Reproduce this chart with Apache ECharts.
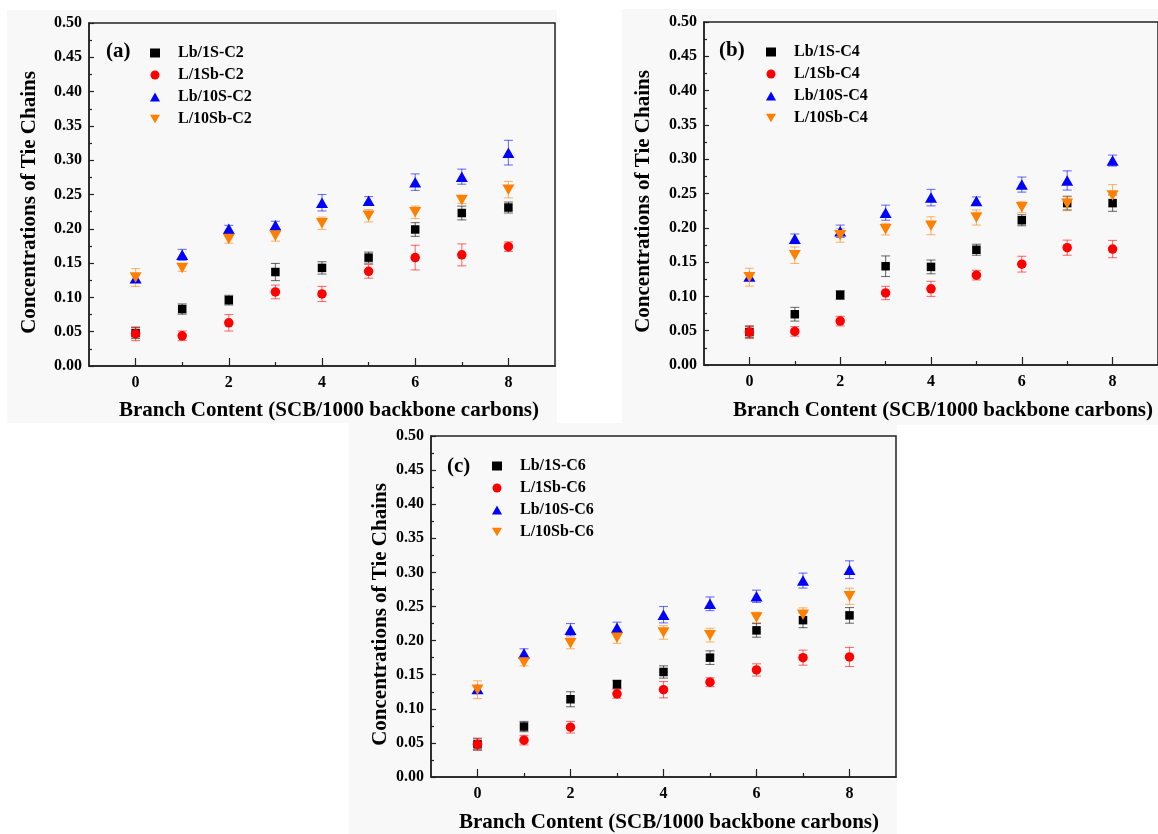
<!DOCTYPE html>
<html>
<head>
<meta charset="utf-8">
<script src="https://cdn.jsdelivr.net/npm/echarts@6/dist/echarts.min.js"></script>
<style>
html,body{margin:0;padding:0;background:#fff;}
#chart{width:1158px;height:834px;}
</style>
</head>
<body>
<div id="chart"></div>
<script>
// ---------- data ----------
const xValues = [0, 1, 2, 3, 4, 5, 6, 7, 8];
const xMajorTicks = [0, 2, 4, 6, 8];
const xMinorTicks = [1, 3, 5, 7];

const panelLabels = ['(a)', '(b)', '(c)'];
const namesA = ['Lb/1S-C2', 'L/1Sb-C2', 'Lb/10S-C2', 'L/10Sb-C2'];
const namesB = ['Lb/1S-C4', 'L/1Sb-C4', 'Lb/10S-C4', 'L/10Sb-C4'];
const namesC = ['Lb/1S-C6', 'L/1Sb-C6', 'Lb/10S-C6', 'L/10Sb-C6'];

// panel (a) C2
const a_Lb1S      = [0.048, 0.083, 0.096, 0.137, 0.143, 0.158, 0.199, 0.223, 0.231];
const a_Lb1S_err  = [0.008, 0.0075, 0.007, 0.0125, 0.009, 0.008, 0.010, 0.010, 0.008];
const a_L1Sb      = [0.047, 0.044, 0.063, 0.108, 0.105, 0.138, 0.158, 0.162, 0.174];
const a_L1Sb_err  = [0.010, 0.007, 0.012, 0.010, 0.011, 0.010, 0.018, 0.016, 0.007];
const a_Lb10S     = [0.128, 0.162, 0.200, 0.205, 0.238, 0.241, 0.268, 0.276, 0.311];
const a_Lb10S_err = [0.005, 0.008, 0.005, 0.006, 0.012, 0.006, 0.012, 0.011, 0.018];
const a_L10Sb     = [0.129, 0.143, 0.185, 0.190, 0.208, 0.219, 0.224, 0.242, 0.257];
const a_L10Sb_err = [0.013, 0.005, 0.006, 0.008, 0.009, 0.009, 0.009, 0.005, 0.012];

// panel (b) C4
const b_Lb1S      = [0.048, 0.074, 0.102, 0.144, 0.143, 0.168, 0.211, 0.236, 0.236];
const b_Lb1S_err  = [0.008, 0.010, 0.0065, 0.015, 0.010, 0.008, 0.008, 0.010, 0.012];
const b_L1Sb      = [0.048, 0.049, 0.064, 0.105, 0.111, 0.131, 0.147, 0.171, 0.169];
const b_L1Sb_err  = [0.0095, 0.007, 0.007, 0.0097, 0.011, 0.007, 0.0115, 0.011, 0.0126];
const b_Lb10S     = [0.129, 0.184, 0.195, 0.222, 0.244, 0.239, 0.263, 0.269, 0.298];
const b_Lb10S_err = [0.005, 0.007, 0.009, 0.011, 0.012, 0.006, 0.011, 0.014, 0.008];
const b_L10Sb     = [0.128, 0.160, 0.189, 0.198, 0.203, 0.215, 0.230, 0.235, 0.247];
const b_L10Sb_err = [0.013, 0.012, 0.010, 0.0085, 0.013, 0.011, 0.008, 0.010, 0.016];

// panel (c) C6
const c_Lb1S      = [0.048, 0.074, 0.114, 0.136, 0.154, 0.175, 0.215, 0.230, 0.237];
const c_Lb1S_err  = [0.008, 0.0075, 0.011, 0.006, 0.009, 0.010, 0.010, 0.011, 0.0115];
const c_L1Sb      = [0.048, 0.054, 0.073, 0.122, 0.128, 0.139, 0.157, 0.175, 0.176];
const c_L1Sb_err  = [0.009, 0.007, 0.0085, 0.0065, 0.012, 0.0065, 0.009, 0.011, 0.014];
const c_Lb10S     = [0.129, 0.181, 0.216, 0.219, 0.238, 0.254, 0.265, 0.288, 0.304];
const c_Lb10S_err = [0.005, 0.007, 0.009, 0.008, 0.012, 0.010, 0.009, 0.011, 0.013];
const c_L10Sb     = [0.128, 0.168, 0.196, 0.204, 0.212, 0.208, 0.234, 0.238, 0.265];
const c_L10Sb_err = [0.013, 0.005, 0.008, 0.008, 0.010, 0.010, 0.0075, 0.010, 0.012];

// ---------- styling ----------
const FONT = '"Liberation Serif", "Times New Roman", serif';
const colors = ['#000000', '#ff0000', '#0000ff', '#ff8000'];
const errColors = ['rgba(0,0,0,0.55)', 'rgba(255,0,0,0.55)', 'rgba(0,0,255,0.55)', 'rgba(255,128,0,0.55)'];
const symbols = ['rect', 'circle', 'triangle', 'path://M0,0 L10,0 L5,8.66 Z'];
const symbolSizes = [8.5, 9.5, [12, 10.5], [12, 10.5]];

const panels = [
  { names: namesA, vals: [a_Lb1S, a_L1Sb, a_Lb10S, a_L10Sb], errs: [a_Lb1S_err, a_L1Sb_err, a_Lb10S_err, a_L10Sb_err],
    grid: { left: 89, top: 23, width: 466, height: 343 }, yGap: 49, xGap: 34, xPad: 14,
    legend: { left: 145, top: 40 }, label: { left: 106, top: 41 }, bg: { x: 7, y: 10, w: 550, h: 413 } },
  { names: namesB, vals: [b_Lb1S, b_L1Sb, b_Lb10S, b_L10Sb], errs: [b_Lb1S_err, b_L1Sb_err, b_Lb10S_err, b_L10Sb_err],
    grid: { left: 704, top: 22, width: 466, height: 343 }, yGap: 50, xGap: 35, xPad: 24,
    legend: { left: 761, top: 39 }, label: { left: 719, top: 40 }, bg: { x: 622, y: 9, w: 536, h: 416 } },
  { names: namesC, vals: [c_Lb1S, c_L1Sb, c_Lb10S, c_L10Sb], errs: [c_Lb1S_err, c_L1Sb_err, c_Lb10S_err, c_L10Sb_err],
    grid: { left: 431, top: 436, width: 465, height: 343 }, yGap: 40, xGap: 35, xPad: 11,
    legend: { left: 487, top: 453 }, label: { left: 447, top: 456 }, bg: { x: 349, y: 423, w: 548, h: 411 } }
];

const grids = [], xAxes = [], yAxes = [], series = [], legends = [], graphics = [];

panels.forEach((p, pi) => {
  grids.push(Object.assign({ show: true, borderColor: '#222', borderWidth: 1.5, backgroundColor: 'transparent', containLabel: false }, p.grid));
  graphics.push({ type: 'rect', z: -10, shape: { x: p.bg.x, y: p.bg.y, width: p.bg.w, height: p.bg.h }, style: { fill: '#f8f8f8' } });
  graphics.push({ type: 'text', left: p.label.left, top: p.label.top, z: 10,
    style: { text: panelLabels[pi], font: 'bold 21px ' + FONT, fill: '#000' } });

  // major x axis with labels
  xAxes.push({
    type: 'value', gridIndex: pi, min: -1, max: 9,
    axisLine: { show: true, onZero: false, lineStyle: { color: '#222', width: 1.5 } },
    axisTick: { show: true, inside: true, length: 8, customValues: xMajorTicks, lineStyle: { color: '#222', width: 1.2 } },
    axisLabel: { customValues: xMajorTicks, margin: 9, color: '#000', fontFamily: FONT, fontWeight: 'bold', fontSize: 16 },
    splitLine: { show: false },
    name: 'Branch Content (SCB/1000 backbone carbons)', nameLocation: 'middle', nameGap: p.xGap,
    nameTextStyle: { color: '#000', fontFamily: FONT, fontWeight: 'bold', fontSize: 21, padding: [0, 0, 0, p.xPad] }
  });
  // minor x ticks
  xAxes.push({
    type: 'value', gridIndex: pi, min: -1, max: 9, position: 'bottom',
    axisLine: { show: false },
    axisTick: { show: true, inside: true, length: 4, customValues: xMinorTicks, lineStyle: { color: '#222', width: 1.2 } },
    axisLabel: { show: false }, splitLine: { show: false }
  });
  yAxes.push({
    type: 'value', gridIndex: pi, min: 0, max: 0.5, interval: 0.05,
    axisLine: { show: true, onZero: false, lineStyle: { color: '#222', width: 1.5 } },
    axisTick: { show: true, inside: true, length: 5, lineStyle: { color: '#222', width: 1.2 } },
    minorTick: { show: true, splitNumber: 2, length: 3, lineStyle: { color: '#222', width: 1.2 } },
    axisLabel: { margin: 7, color: '#000', fontFamily: FONT, fontWeight: 'bold', fontSize: 16, formatter: v => v.toFixed(2) },
    splitLine: { show: false },
    name: 'Concentrations of Tie Chains', nameLocation: 'middle', nameGap: p.yGap,
    nameTextStyle: { color: '#000', fontFamily: FONT, fontWeight: 'bold', fontSize: 21, padding: [0, 16, 0, 0] }
  });

  // error bars
  p.vals.forEach((vals, si) => {
    series.push({
      type: 'custom', xAxisIndex: pi * 2, yAxisIndex: pi, z: 2, silent: true,
      data: xValues.map((x, i) => [x, vals[i], p.errs[si][i]]),
      renderItem: (params, api) => {
        const x = api.value(0), y = api.value(1), e = api.value(2);
        const top = api.coord([x, y + e]);
        const bot = api.coord([x, y - e]);
        const hw = 4.5;
        const st = { stroke: errColors[si], lineWidth: 1.1, fill: null };
        return {
          type: 'group',
          children: [
            { type: 'line', shape: { x1: top[0], y1: top[1], x2: bot[0], y2: bot[1] }, style: st },
            { type: 'line', shape: { x1: top[0] - hw, y1: top[1], x2: top[0] + hw, y2: top[1] }, style: st },
            { type: 'line', shape: { x1: bot[0] - hw, y1: bot[1], x2: bot[0] + hw, y2: bot[1] }, style: st }
          ]
        };
      }
    });
  });
  // markers
  p.vals.forEach((vals, si) => {
    series.push({
      type: 'scatter', name: p.names[si], xAxisIndex: pi * 2, yAxisIndex: pi, z: 3 + si,
      symbol: symbols[si], symbolSize: symbolSizes[si],
      itemStyle: { color: colors[si], opacity: 1 },
      data: xValues.map((x, i) => [x, vals[i]])
    });
  });

  legends.push({
    orient: 'vertical', left: p.legend.left, top: p.legend.top,
    itemWidth: 10, itemHeight: 9, itemGap: 6, selectedMode: false,
    data: p.names,
    textStyle: { color: '#000', fontFamily: FONT, fontWeight: 'bold', fontSize: 16, lineHeight: 16, padding: [0, 0, 0, 13] }
  });
});

const chart = echarts.init(document.getElementById('chart'), null, { renderer: 'canvas' });
chart.setOption({
  backgroundColor: '#ffffff',
  animation: false,
  grid: grids,
  xAxis: xAxes,
  yAxis: yAxes,
  legend: legends,
  graphic: graphics,
  series: series
});
</script>
</body>
</html>
